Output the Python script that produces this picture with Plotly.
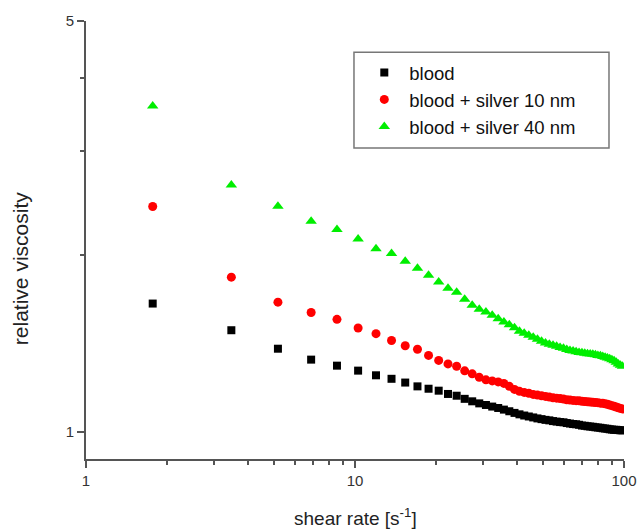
import plotly.graph_objects as go

# shear rate [1/s]
shear_rate = [1.77, 3.47, 5.17, 6.87, 8.57, 10.27, 11.97, 13.67, 15.37, 17.07,
              18.77, 20.47, 22.17, 23.87, 25.57, 27.27, 28.97, 30.67, 32.37, 34.07,
              35.77, 37.47, 39.17, 40.87, 42.57, 44.27, 45.97, 47.67, 49.37, 51.07,
              52.77, 54.47, 56.17, 57.87, 59.57, 61.27, 62.97, 64.67, 66.37, 68.07,
              69.77, 71.47, 73.17, 74.87, 76.57, 78.27, 79.97, 81.67, 83.37, 85.07,
              86.77, 88.47, 90.17, 91.87, 93.57, 95.27, 96.97, 98.67]

blood = [1.654, 1.490, 1.386, 1.328, 1.297, 1.272, 1.249, 1.232, 1.214, 1.196,
         1.185, 1.176, 1.161, 1.153, 1.139, 1.128, 1.119, 1.112, 1.105, 1.099,
         1.092, 1.085, 1.078, 1.072, 1.067, 1.063, 1.059, 1.055, 1.052, 1.049,
         1.047, 1.044, 1.042, 1.040, 1.039, 1.036, 1.034, 1.032, 1.031, 1.029,
         1.026, 1.025, 1.023, 1.022, 1.021, 1.019, 1.018, 1.017, 1.015, 1.014,
         1.013, 1.011, 1.010, 1.009, 1.009, 1.008, 1.007, 1.007]

silver_10 = [2.419, 1.834, 1.663, 1.597, 1.555, 1.503, 1.470, 1.431, 1.402, 1.383,
             1.350, 1.324, 1.306, 1.294, 1.271, 1.256, 1.239, 1.227, 1.222, 1.217,
             1.210, 1.196, 1.182, 1.173, 1.168, 1.164, 1.159, 1.156, 1.153, 1.150,
             1.147, 1.144, 1.142, 1.140, 1.138, 1.135, 1.134, 1.132, 1.131, 1.130,
             1.128, 1.127, 1.126, 1.125, 1.124, 1.123, 1.122, 1.120, 1.119, 1.117,
             1.115, 1.112, 1.109, 1.106, 1.103, 1.100, 1.097, 1.095]

silver_40 = [3.584, 2.630, 2.420, 2.284, 2.210, 2.130, 2.050, 2.012, 1.952, 1.899,
             1.848, 1.800, 1.757, 1.729, 1.682, 1.643, 1.617, 1.600, 1.580, 1.558,
             1.539, 1.522, 1.504, 1.484, 1.472, 1.461, 1.449, 1.438, 1.427, 1.418,
             1.410, 1.405, 1.399, 1.393, 1.388, 1.382, 1.377, 1.373, 1.369, 1.366,
             1.364, 1.361, 1.359, 1.358, 1.356, 1.353, 1.350, 1.348, 1.345, 1.341,
             1.337, 1.332, 1.327, 1.322, 1.314, 1.306, 1.299, 1.294]

series_names = ["blood", "blood + silver 10 nm", "blood + silver 40 nm"]

x_major = [1, 10, 100]
x_minor = [2, 3, 4, 5, 6, 7, 8, 9, 20, 30, 40, 50, 60, 70, 80, 90]
y_major = [1, 5]
y_minor = [2, 3, 4]

x_title = "shear rate [s<sup>-1</sup>]"
y_title = "relative viscosity"

AX = "#555555"
FONT = "Liberation Sans, Arial, sans-serif"

fig = go.Figure()
styles = [
    (blood, dict(symbol="square", color="#000000", size=8)),
    (silver_10, dict(symbol="circle", color="#ff0000", size=9)),
    (silver_40, dict(symbol="triangle-up", color="#00ee00", size=10)),
]
for i, (vals, mk) in enumerate(styles):
    fig.add_trace(go.Scatter(
        x=shear_rate, y=vals, mode="markers", name=series_names[i],
        marker=dict(symbol=mk["symbol"], color=mk["color"], size=mk["size"],
                    line=dict(width=0)),
    ))

fig.update_layout(
    width=639, height=529,
    margin=dict(l=86, r=15, t=21, b=70, pad=0),
    paper_bgcolor="white", plot_bgcolor="white",
    font=dict(family=FONT, size=15, color="#222222"),
    showlegend=True,
    legend=dict(
        x=0.508, y=0.925, xanchor="left", yanchor="top",
        borderwidth=0, bgcolor="rgba(0,0,0,0)",
        font=dict(family=FONT, size=18.5, color="#111111"),
        traceorder="normal", itemwidth=40,
    ),
    shapes=[dict(type="rect", xref="paper", yref="paper",
                 x0=0.4981, x1=0.9721, y0=0.7099, y1=0.9289,
                 line=dict(color="#777777", width=1.5), fillcolor="rgba(0,0,0,0)",
                 layer="below")],
    annotations=[
        dict(text=x_title, xref="paper", yref="paper", x=0.5, y=-0.133,
             xanchor="center", yanchor="middle", showarrow=False,
             font=dict(size=19, color="#222222")),
        dict(text=y_title, xref="paper", yref="paper", x=-0.1227, y=0.4357,
             xanchor="center", yanchor="middle", showarrow=False, textangle=-90,
             font=dict(size=21, color="#222222")),
    ],
)
fig.update_xaxes(
    type="log", range=[0, 2], automargin=False,
    showline=True, linecolor=AX, linewidth=2, mirror=False,
    showgrid=False, zeroline=False,
    tickmode="array", tickvals=x_major, ticktext=[str(v) for v in x_major],
    ticks="outside", ticklen=7, tickwidth=1.5, tickcolor=AX,
    tickfont=dict(size=15, color="#333333"),
    minor=dict(tickmode="array", tickvals=x_minor, ticks="outside",
               ticklen=4, tickwidth=1.5, tickcolor=AX, showgrid=False),
)
fig.update_yaxes(
    type="log", range=[-0.04576, 0.69897], automargin=False,
    showline=True, linecolor=AX, linewidth=2, mirror=False,
    showgrid=False, zeroline=False,
    tickmode="array", tickvals=y_major, ticktext=[str(v) for v in y_major],
    ticks="outside", ticklen=7, tickwidth=1.5, tickcolor=AX,
    tickfont=dict(size=15, color="#333333"),
    minor=dict(tickmode="array", tickvals=y_minor, ticks="outside",
               ticklen=4, tickwidth=1.5, tickcolor=AX, showgrid=False),
)

fig.write_html(
    "out.html",
    config={"displayModeBar": False},
    post_script="document.body.style.margin='0px';document.body.style.overflow='hidden';",
)
